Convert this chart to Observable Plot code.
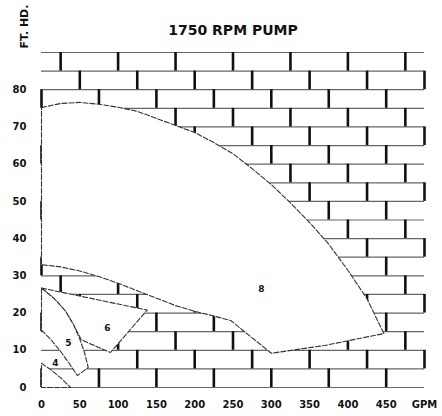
<!DOCTYPE html>
<html>
<head>
<meta charset="utf-8">
<script src="https://cdn.jsdelivr.net/npm/d3@7"></script>
<script src="https://cdn.jsdelivr.net/npm/@observablehq/plot@0.6"></script>
<style>
  body { margin: 0; background: #fff; }
</style>
</head>
<body>
<div id="chart"></div>
<script>
// ---- text ----
const title = "1750 RPM PUMP";
const yLabel = "FT. HD.";
const xTicks = [0, 50, 100, 150, 200, 250, 300, 350, 400, 450, 500];
const xTickLabels = ["0", "50", "100", "150", "200", "250", "300", "350", "400", "450", "GPM"];
const yTicks = [0, 10, 20, 30, 40, 50, 60, 70, 80];

// ---- brick background pattern (GPM / ft) ----
const brickLines = [0, 5, 10, 15, 20, 25, 30, 35, 40, 45, 50, 55, 60, 65, 70, 75, 80, 85, 90];
const brickRowOffsets = [25, 50, 0, 25, 50, 0, 25, 50, 0, 25, 50, 0, 25, 50, 0, 25, 50, 0];
const brickPeriod = 75;

// ---- pump regions: [GPM, FT. HD.] ----
const region8Top = [[0, 75.2], [25, 76.3], [50, 76.6], [75, 76.1], [100, 75.3], [125, 74.2], [150, 72.3],
  [175, 70.4], [200, 68.5], [225, 65.8], [250, 62.8], [275, 58.8], [300, 54.5], [325, 49.6],
  [350, 44.3], [375, 38.5], [400, 31.5], [425, 23.8], [447, 14.5]];
const region8Bottom = [[447, 14.5], [370, 11.3], [300, 9.2], [247, 18], [225, 19.2], [200, 20.5],
  [175, 22], [150, 24], [125, 26], [100, 28], [75, 29.8], [50, 31.3], [25, 32.4], [0, 33]];
const region6 = [[0, 26.7], [138, 20.8], [90, 9.4], [52, 12.8], [42, 16.8], [31, 20.6], [16, 24], [0, 26.7]];
const region5 = [[0, 26.7], [16, 24], [31, 20.6], [42, 16.8], [50, 13], [56, 9.5], [61, 5.4],
  [47, 3.2], [37, 6.2], [26, 9.4], [13, 12.7], [0, 15.4], [0, 26.7]];
const region4 = [[0, 6.5], [12, 4.8], [25, 2.6], [38, 0], [0, 0], [0, 6.5]];
const regionLabels = [{x: 287, y: 26.4, t: "8"}, {x: 86, y: 16, t: "6"}, {x: 35, y: 12, t: "5"}, {x: 18, y: 6.5, t: "4"}];

// build tables
const toPts = (arr) => arr.map(([x, y]) => ({x, y}));
const region8 = toPts([...region8Top, ...region8Bottom.slice(1), region8Top[0]]);
const bricks = [];
brickRowOffsets.forEach((off, r) => {
  const top = brickLines[brickLines.length - 1 - r];
  const bottom = brickLines[brickLines.length - 2 - r];
  for (let x = off; x <= 500; x += brickPeriod) bricks.push({x, y1: bottom, y2: top});
});

const regionStyle = {x: "x", y: "y", fill: "white", stroke: "#333", strokeWidth: 1.1, strokeDasharray: "5,2", curve: "linear"};

const chart = Plot.plot({
  width: 442,
  height: 416,
  marginLeft: 41,
  marginRight: 18,
  marginTop: 52,
  marginBottom: 29,
  style: {fontFamily: "'DejaVu Sans', sans-serif", fontWeight: "bold", fontSize: "10px", background: "#fff", color: "#111"},
  x: {domain: [0, 500]},
  y: {domain: [0, 90]},
  marks: [
    Plot.ruleY(brickLines, {x1: 0, x2: 500, stroke: "#666", strokeWidth: 1.2}),
    Plot.ruleX(bricks, {x: "x", y1: "y1", y2: "y2", stroke: "#111", strokeWidth: 2.6}),
    Plot.line(region8, regionStyle),
    Plot.line(toPts(region6), regionStyle),
    Plot.line(toPts(region5), regionStyle),
    Plot.line(toPts(region4), regionStyle),
    Plot.text(regionLabels, {x: "x", y: "y", text: "t", fontSize: 9, fontWeight: "bold", fill: "#111"}),
    Plot.axisX(xTicks, {tickSize: 0, tickPadding: 13, tickFormat: (d) => xTickLabels[xTicks.indexOf(d)], fontSize: 10, fontWeight: "bold", label: null}),
    Plot.axisY(yTicks, {tickSize: 0, tickPadding: 15, fontSize: 10, fontWeight: "bold", label: null}),
    Plot.text([title], {frameAnchor: "top", dy: -27, fontSize: 14, fontWeight: "bold", fill: "#111"}),
    Plot.text([yLabel], {frameAnchor: "top-left", textAnchor: "middle", dx: -21, dy: -26, rotate: -90, fontSize: 11, fontWeight: "bold", fill: "#111"})
  ]
});
document.getElementById("chart").appendChild(chart);
</script>
</body>
</html>
